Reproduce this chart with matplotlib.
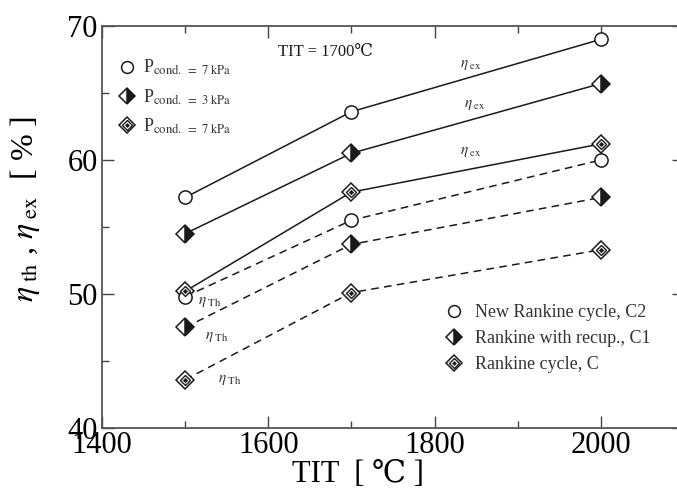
import matplotlib
matplotlib.use("Agg")
import matplotlib.pyplot as plt
from matplotlib.lines import Line2D
from matplotlib.ticker import MultipleLocator

plt.rcParams['font.family'] = ['Liberation Serif', 'DejaVu Serif']
plt.rcParams['mathtext.fontset'] = 'stix'

# ---- data ----
tit = [1500, 1700, 2000]
ex_new = [57.2, 63.6, 69.0]      # New Rankine cycle, C2 (exergy eff.)
ex_recup = [54.5, 60.5, 65.7]    # Rankine with recup., C1
ex_rank = [50.2, 57.6, 61.2]     # Rankine cycle, C
th_new = [49.8, 55.5, 60.0]
th_recup = [47.5, 53.7, 57.2]
th_rank = [43.6, 50.1, 53.3]

xticks = [1400, 1600, 1800, 2000]
yticks = [40, 50, 60, 70]

ink = '#1a1a1a'

fig = plt.figure(figsize=(6.77, 4.88), dpi=100)
# axis extends to TIT = 2100, slightly beyond the right edge of the figure
ax = fig.add_axes([0.1507, 0.123, 0.8595, 0.8238])
ax.set_xlim(1400, 2100)
ax.set_ylim(40, 70)


def circle_series(y, ls):
    ax.plot(tit, y, ls=ls, color=ink, lw=1.1, zorder=2)
    ax.plot(tit, y, ls='none', marker='o', ms=9.5, mfc='white', mec=ink, mew=1.1, zorder=3)


def half_series(y, ls):
    ax.plot(tit, y, ls=ls, color=ink, lw=1.1, zorder=2)
    ax.plot(tit, y, ls='none', marker='D', ms=9.5, fillstyle='right', mfc=ink,
            mfcalt='white', mec=ink, mew=1.1, zorder=3)


def double_series(y, ls):
    ax.plot(tit, y, ls=ls, color=ink, lw=1.1, zorder=2)
    ax.plot(tit, y, ls='none', marker='D', ms=9.5, mfc='white', mec=ink, mew=1.1, zorder=3)
    ax.plot(tit, y, ls='none', marker='D', ms=5.5, mfc='white', mec=ink, mew=1.0, zorder=4)
    ax.plot(tit, y, ls='none', marker='D', ms=2.2, mfc=ink, mec=ink, mew=0.5, zorder=5)


dash = (0, (5, 3.5))
circle_series(ex_new, '-')
half_series(ex_recup, '-')
double_series(ex_rank, '-')
circle_series(th_new, dash)
half_series(th_recup, dash)
double_series(th_rank, dash)

# efficiency labels on lines
for (x, y) in [(1831, 67.1), (1835, 64.1), (1831, 60.6)]:
    ax.text(x, y, r'$\eta_{\ \mathrm{ex}}$', fontsize=11, color='#333333', ha='left', va='center')
for (x, y) in [(1516, 49.4), (1524, 46.8), (1540, 43.6)]:
    ax.text(x, y, r'$\eta_{\ \mathrm{Th}}$', fontsize=11, color='#333333', ha='left', va='center')

ax.text(0.384, 0.935, 'TIT = 1700℃', transform=ax.transAxes, fontsize=12,
        ha='center', va='center', color=ink)

# legend handles
h_circ = Line2D([], [], ls='none', marker='o', ms=8.5, mfc='white', mec=ink, mew=1.1)
h_half = Line2D([], [], ls='none', marker='D', ms=8.5, fillstyle='right', mfc=ink,
                mfcalt='white', mec=ink, mew=1.1)
h_dbl = (Line2D([], [], ls='none', marker='D', ms=8.5, mfc='white', mec=ink, mew=1.1),
         Line2D([], [], ls='none', marker='D', ms=5, mfc='white', mec=ink, mew=1.0),
         Line2D([], [], ls='none', marker='D', ms=2, mfc=ink, mec=ink, mew=0.5))

leg1 = ax.legend([h_circ, h_half, h_dbl],
                 [r'P$_{\mathrm{cond.\ =\ 7\ kPa}}$', r'P$_{\mathrm{cond.\ =\ 3\ kPa}}$',
                  r'P$_{\mathrm{cond.\ =\ 7\ kPa}}$'],
                 loc='center left', bbox_to_anchor=(0.029, 0.823), frameon=False,
                 fontsize=13, borderpad=0, borderaxespad=0, handlelength=0.95,
                 handletextpad=0.36, labelspacing=0.55)
for t in leg1.get_texts():
    t.set_color('#333333')
ax.add_artist(leg1)

leg2 = ax.legend([h_circ, h_half, h_dbl],
                 ['New Rankine cycle, C2', 'Rankine with recup., C1', 'Rankine cycle, C'],
                 loc='center left', bbox_to_anchor=(0.590, 0.2226), frameon=False,
                 fontsize=13, borderpad=0, borderaxespad=0, handlelength=1.0,
                 handletextpad=0.67, labelspacing=0.5)
for t in leg2.get_texts():
    t.set_color('#333333')

# axes styling
ax.set_xticks(xticks)
ax.set_yticks(yticks)
ax.xaxis.set_minor_locator(MultipleLocator(100))
ax.yaxis.set_minor_locator(MultipleLocator(5))
ax.tick_params(which='both', direction='in', top=True, right=True, color='#444444', width=1.0)
ax.tick_params(which='major', length=8.5, labelsize=22, pad=3)
ax.tick_params(which='minor', length=5)
ax.tick_params(axis='x', which='major', pad=2)
for s in ax.spines.values():
    s.set_linewidth(1.3)
    s.set_color('#555555')
ax.spines['right'].set_visible(False)

ax.set_xlabel('TIT  [ ℃ ]', fontsize=22)
ax.xaxis.set_label_coords(0.44, -0.08)
ax.set_ylabel(r'$\eta_{\ \mathrm{th}}$ , $\eta_{\ \mathrm{ex}}$  [ % ]', fontsize=23)
ax.yaxis.set_label_coords(-0.103, 0.545)

fig.savefig('out.png', dpi=100)
